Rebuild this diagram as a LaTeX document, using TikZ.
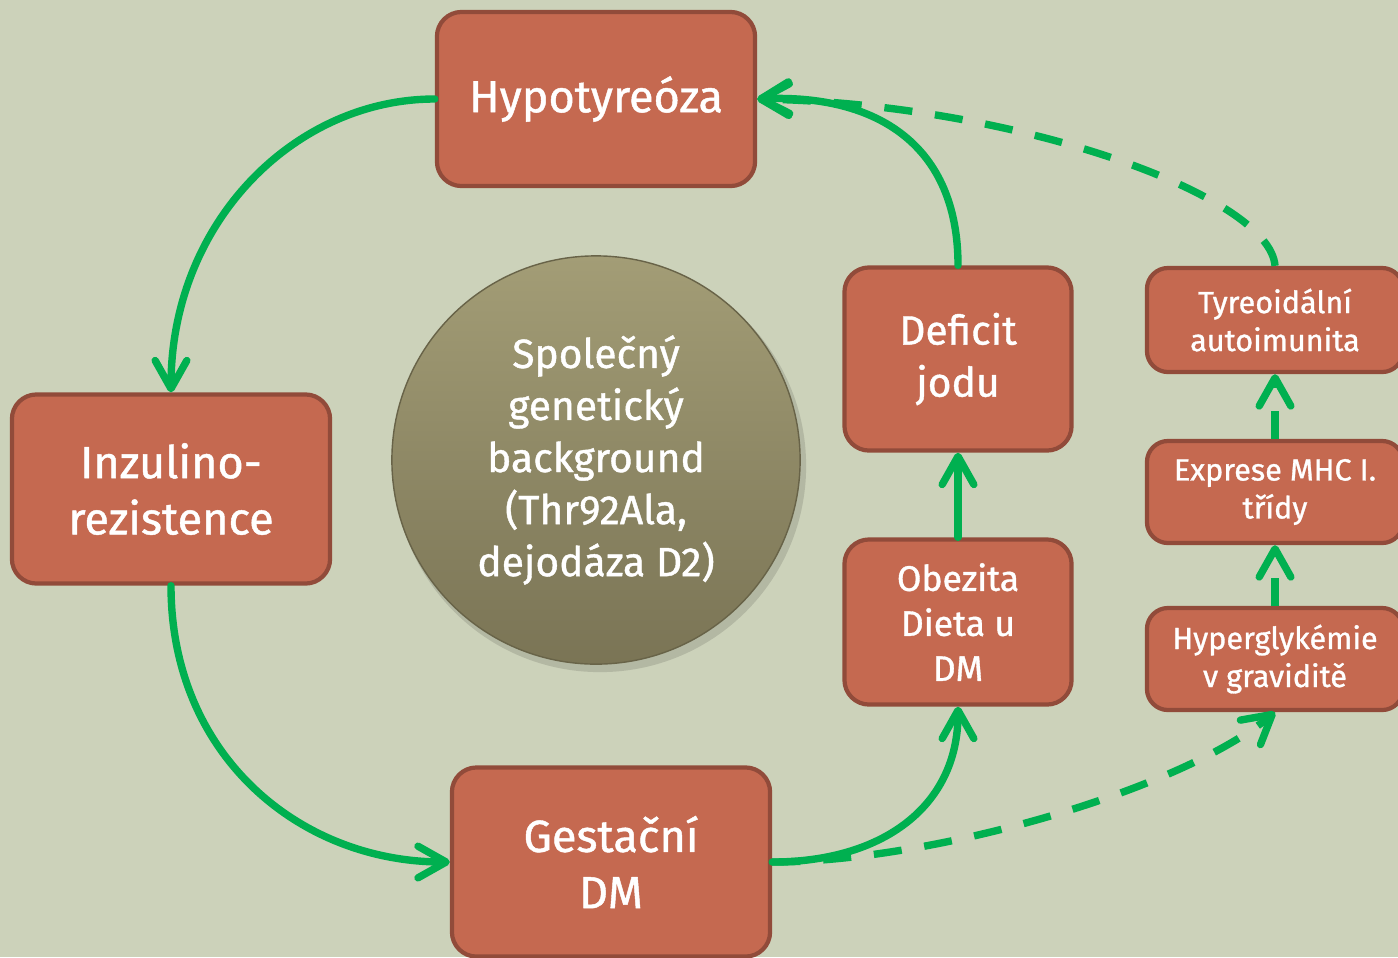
\documentclass[tikz,border=0pt]{standalone}
\usepackage{fontspec}
\setmainfont{Fira Sans}[FakeBold=1.0]
\usetikzlibrary{arrows.meta}
\definecolor{sage}{HTML}{CCD2BA}
\definecolor{boxfill}{HTML}{C56950}
\definecolor{boxline}{HTML}{914B3A}
\definecolor{linkgreen}{HTML}{00B050}
\definecolor{balltop}{HTML}{A39D76}
\definecolor{ballbot}{HTML}{7A7455}

\begin{document}
\begin{tikzpicture}[x=0.01cm,y=-0.01cm,
  box/.style={draw=boxline,fill=boxfill,line width=1.2pt,rounded corners=7pt,text=white,align=center,inner sep=0pt},
  bigtext/.style={font=\fontsize{12.8}{16}\selectfont},
  midtext/.style={font=\fontsize{11.6}{14.8}\selectfont},
  smalltext/.style={font=\fontsize{10.1}{12.8}\selectfont},
  tinytext/.style={font=\fontsize{8.7}{10.8}\selectfont},
  link/.style={draw=linkgreen,line width=2.1pt,line cap=round,-{Straight Barb[length=8pt,width=9pt,round]}},
  dlink/.style={link,line cap=butt,dash pattern=on 8pt off 6.5pt}]
  \useasboundingbox (0,0) rectangle (1398,957);
  \path[fill=sage] (0,0) rectangle (1398,957);

  % the shaded ball in the middle
  \path[fill=black,opacity=.12] (600,466) circle[radius=2.06cm];
  \node[circle,minimum size=4.08cm,top color=balltop,bottom color=ballbot,draw=ballbot!85!black,line width=.4pt,text=white,align=center,midtext] (gen) at (596,460)
    {Společný\\genetický\\background\\(Thr92Ala,\\dejodáza D2)};

  \node[box,bigtext,minimum width=3.18cm,minimum height=1.74cm] (hypo) at (596,99) {Hypotyreóza};
  \node[box,bigtext,minimum width=3.18cm,minimum height=1.89cm] (inz) at (171,489) {Inzulino-\\rezistence};
  \node[box,bigtext,minimum width=3.18cm,minimum height=1.89cm] (gest) at (611,862) {Gestační\\DM};
  \node[box,midtext,minimum width=2.27cm,minimum height=1.83cm] (def) at (958,359) {Deficit\\jodu};
  \node[box,smalltext,minimum width=2.27cm,minimum height=1.65cm] (obe) at (958,622) {Obezita\\Dieta u\\DM};
  \node[box,tinytext,rounded corners=6pt,minimum width=2.56cm,minimum height=1.04cm] (tyr) at (1275,320) {Tyreoidální\\autoimunita};
  \node[box,tinytext,rounded corners=6pt,minimum width=2.56cm,minimum height=1.02cm] (mhc) at (1275,492) {Exprese MHC I.\\třídy};
  \node[box,tinytext,rounded corners=6pt,minimum width=2.56cm,minimum height=1.02cm] (hyg) at (1275,659) {Hyperglykémie\\v graviditě};

  \path[link] (hypo.west) .. controls +(-140,0) and +(0,-170) .. (inz.north);
  \path[link] (inz.south) .. controls +(0,170) and +(-150,0) .. (gest.west);
  \path[link] (gest.east) .. controls +(110,0) and +(0,100) .. (obe.south);
  \path[link] (obe.north) -- (def.south);
  \path[link] (def.north) .. controls +(0,-120) and +(120,-5) .. (hypo.east);

  \path[dlink] (gest.east) .. controls +(160,0) and +(-95,78) .. (hyg.south);
  \path[dlink] (tyr.north) .. controls +(-5,-70) and +(260,5) .. (hypo.east);
  \path[dlink] (hyg.north) -- (mhc.south);
  \path[dlink] (mhc.north) -- (tyr.south);
\end{tikzpicture}
\end{document}
